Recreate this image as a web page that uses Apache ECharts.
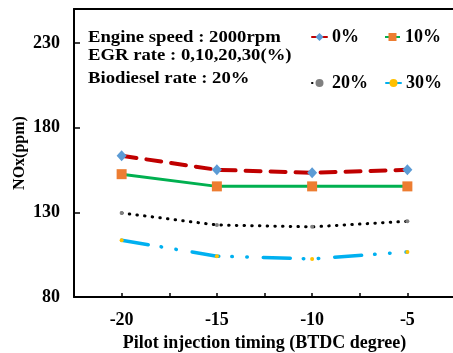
<!DOCTYPE html>
<html><head><meta charset="utf-8">
<script src="https://cdn.jsdelivr.net/npm/echarts@6/dist/echarts.min.js"></script>
<style>html,body{margin:0;padding:0;background:#fff}#c{width:453px;height:353px}</style>
</head><body><div id="c"></div>
<script>
var timing = [-20, -15, -10, -5];
var egr0 = [163.4, 155.1, 153.3, 155.1];
var egr10 = [152.5, 145.3, 145.3, 145.3];
var egr20 = [129.6, 122.5, 121.4, 124.7];
var egr30 = [113.5, 104.1, 102.5, 106.6];
var seriesNames = ['0%', '10%', '20%', '30%'];
var yTicks = [80, 130, 180, 230];
var xTicks = [-20, -15, -10, -5];
var noteLines = ['Engine speed : 2000rpm', 'EGR rate : 0,10,20,30(%)', 'Biodiesel rate : 20%'];

function pairs(v){ return timing.map(function(t,i){return [t, v[i]];}); }
var F = 'Liberation Serif';
var chart = echarts.init(document.getElementById('c'));
var legendText = {fontFamily:F, fontWeight:'bold', fontSize:18, color:'#000'};
chart.setOption({
  animation:false,
  grid:{left:74, top:9, right:-2, bottom:56, containLabel:false, outerBoundsMode:'none'},
  legend:[
    {data:[seriesNames[0], seriesNames[1]], left:311, top:28, itemWidth:15, itemHeight:10, itemGap:25, textStyle:legendText, padding:0},
    {data:[seriesNames[2], seriesNames[3]], left:311, top:74, itemWidth:15, itemHeight:10, itemGap:17, textStyle:legendText, padding:0}
  ],
  xAxis:[{
    type:'value', min:-22.5, max:-2.5, interval:2.5,
    name:'Pilot injection timing (BTDC degree)', nameLocation:'middle', nameGap:37,
    nameTextStyle:{fontFamily:F, fontWeight:'bold', fontSize:18, color:'#000'},
    axisLine:{lineStyle:{color:'#000', width:2}},
    axisTick:{inside:true, length:4, lineStyle:{color:'#000', width:1.5}},
    splitLine:{show:false},
    axisLabel:{fontFamily:F, fontWeight:'bold', fontSize:18, color:'#000', margin:14,
      showMinLabel:false, showMaxLabel:false,
      formatter:function(v){ return xTicks.indexOf(v) >= 0 ? String(v) : ''; }}
  },{
    type:'value', position:'top', min:-22.5, max:-2.5,
    axisLine:{show:true, lineStyle:{color:'#000', width:2}},
    axisTick:{show:false}, axisLabel:{show:false}, splitLine:{show:false}
  }],
  yAxis:{
    type:'value', min:80, max:250, interval:50,
    name:'NOx(ppm)', nameLocation:'middle', nameGap:46, nameMoveOverlap:false,
    nameTextStyle:{fontFamily:F, fontWeight:'bold', fontSize:16, color:'#000'},
    axisLine:{show:true, lineStyle:{color:'#000', width:2}},
    axisTick:{inside:true, length:6, lineStyle:{color:'#000', width:1.5}},
    splitLine:{show:false},
    axisLabel:{fontFamily:F, fontWeight:'bold', fontSize:18, color:'#000', margin:14, showMaxLabel:false,
      formatter:function(v){ return yTicks.indexOf(v) >= 0 ? String(v) : ''; }}
  },
  graphic: noteLines.map(function(t,i){
    return {type:'text', x:88, y:[29.5, 47.5, 70][i], scaleX:1.1, style:{text:t, font:'bold 17px "Liberation Serif"', fill:'#000'}};
  }),
  series:[
    {name:seriesNames[0], type:'line', data:pairs(egr0), symbol:'diamond', symbolSize:[10,11],
     itemStyle:{color:'#5B9BD5'}, lineStyle:{color:'#C00000', width:4, type:[15,10], cap:'round'}},
    {name:seriesNames[1], type:'line', data:pairs(egr10), symbol:'rect', symbolSize:10,
     itemStyle:{color:'#ED7D31'}, lineStyle:{color:'#00B050', width:3}},
    {name:seriesNames[2], type:'line', data:pairs(egr20), symbol:'circle', symbolSize:4,
     itemStyle:{color:'#808080'}, lineStyle:{color:'#000', width:3, type:[0.5,7.2], cap:'round'}},
    {name:seriesNames[3], type:'line', data:pairs(egr30), symbol:'circle', symbolSize:4,
     itemStyle:{color:'#FFC000'}, lineStyle:{color:'#00B0F0', width:3.5, type:[27,13,0.5,14.5,0.5,16], cap:'round'}}
  ]
});
</script></body></html>
